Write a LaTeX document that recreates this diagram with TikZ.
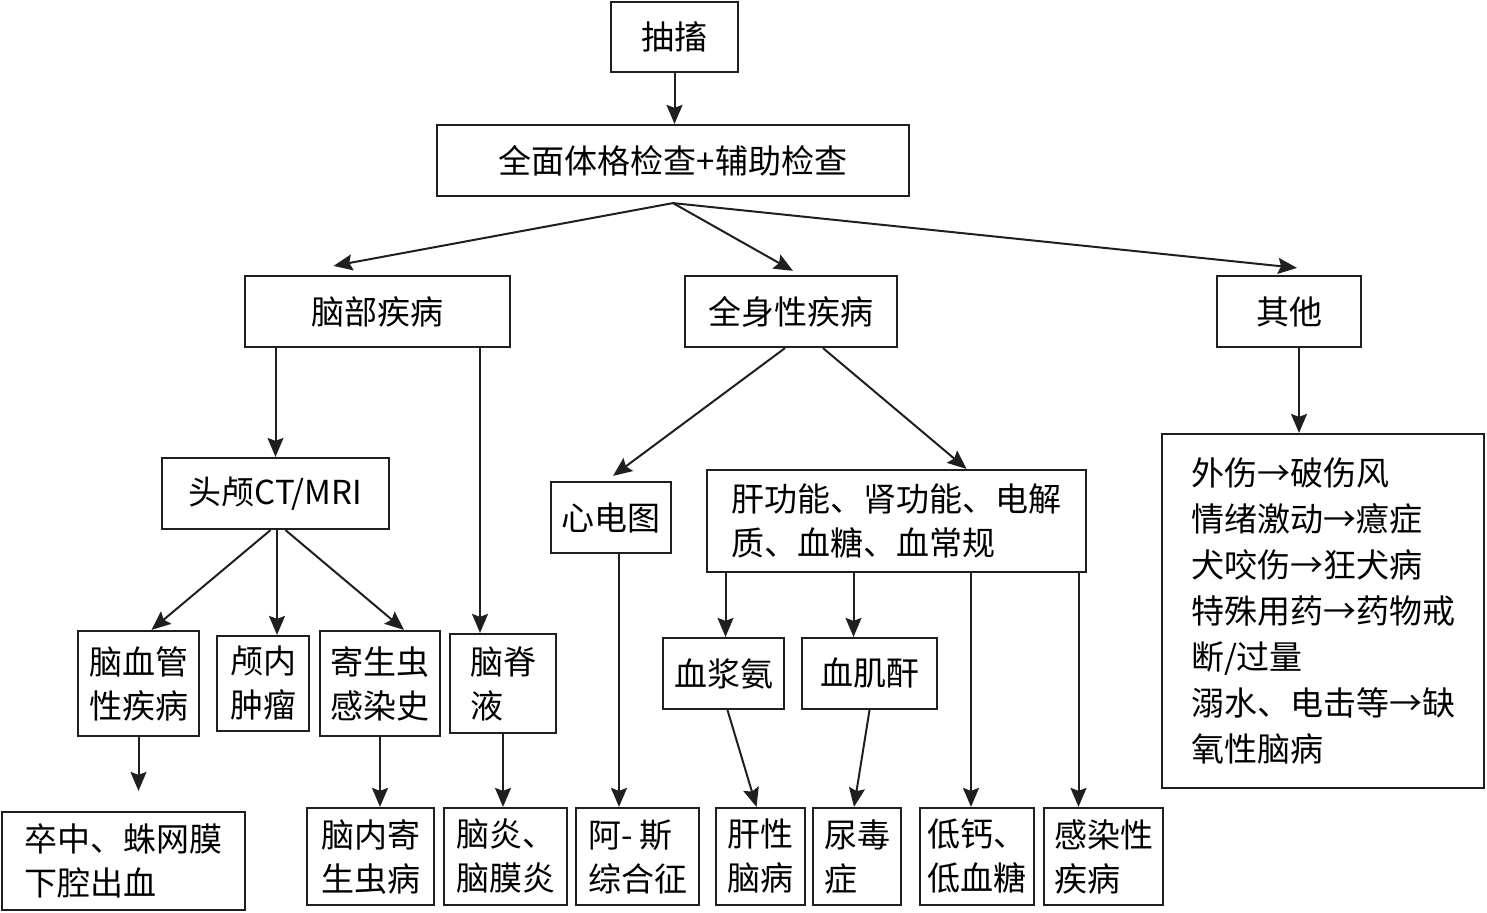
\documentclass[tikz,border=0pt]{standalone}
\usepackage{fontspec}
\setmainfont{Noto Sans CJK SC}
\usetikzlibrary{arrows.meta}

\begin{document}
\begin{tikzpicture}[x=1pt,y=-1pt,font=\fontsize{33}{44}\selectfont,
    box/.style={draw=black!88,line width=2.2pt,inner sep=0pt,align=left},
    boxsize/.style n args={2}{minimum width=#1pt,minimum height=#2pt},
    arr/.style={-{Stealth[length=19pt,width=16pt,inset=3pt]},line width=2pt,draw=black!88}]
    \useasboundingbox (0,0) rectangle (1487,912);

    % top levels
    \node[box,boxsize={127}{70}] (twitch) at (674.5,37) {抽搐};
    \node[box,boxsize={472}{71}] (exam) at (673,160.5) {全面体格检查+辅助检查};
    \node[box,boxsize={265}{71}] (brain) at (377.5,311.5) {脑部疾病};
    \node[box,boxsize={212}{71}] (systemic) at (791,311.5) {全身性疾病};
    \node[box,boxsize={144}{71}] (other) at (1289,311.5) {其他};

    % brain branch
    \node[box,boxsize={227}{71}] (ct) at (275.5,493.5) {头颅CT/MRI};
    \node[box,boxsize={121}{105}] (vasc) at (138.5,683.5) {脑血管\\性疾病};
    \node[box,boxsize={92}{95}] (tumor) at (263,683.5) {颅内\\肿瘤};
    \node[box,boxsize={120}{105}] (parasite) at (380,683.5) {寄生虫\\感染史};
    \node[box,boxsize={106}{99}] (csf) at (503,683.5) {脑脊\\液};
    \node[box,boxsize={243}{98}] (stroke) at (123.5,861) {卒中、蛛网膜\\下腔出血};
    \node[box,boxsize={127}{97}] (brainpar) at (370.5,856.5) {脑内寄\\生虫病};
    \node[box,boxsize={123}{97}] (enceph) at (505.5,856.5) {脑炎、\\脑膜炎};

    % systemic branch
    \node[box,boxsize={120}{71}] (ecg) at (611,517.5) {心电图};
    \node[box,boxsize={379}{102}] (labs) at (896.5,521)
      {肝功能、肾功能、电解\\质、血糖、血常规};
    \node[box,boxsize={121}{71}] (ammonia) at (723.5,673.5) {血浆氨};
    \node[box,boxsize={135}{71}] (creat) at (869.5,673.5) {血肌酐};
    \node[box,boxsize={123}{97}] (adams) at (637.5,856.5) {阿- 斯\\综合征};
    \node[box,boxsize={89}{97}] (hepatic) at (760.5,856.5) {肝性\\脑病};
    \node[box,boxsize={88}{97}] (uremia) at (857,856.5) {尿毒\\症};
    \node[box,boxsize={114}{97}] (lowca) at (977,856.5) {低钙、\\低血糖};
    \node[box,boxsize={119}{97}] (infect) at (1103.5,856.5) {感染性\\疾病};

    % others
    \node[box,boxsize={322}{354},font=\fontsize{33}{46}\selectfont] (otherlist)
      at (1323,611) {外伤→破伤风\\情绪激动→癔症\\犬咬伤→狂犬病\\特殊用药→药物戒\\断/过量\\溺水、电击等→缺\\氧性脑病};

    % arrows
    \coordinate (fork) at ([yshift=-6pt]exam.south);
    \draw[arr] (twitch.south) -- (twitch.south |- exam.north);
    \draw[arr] (fork) -- ([xshift=-44pt,yshift=9pt]brain.north);
    \draw[arr] (fork) -- ([xshift=2pt,yshift=4pt]systemic.north);
    \draw[arr] (fork) -- ([xshift=8pt,yshift=7pt]other.north);

    \draw[arr] (ct.north |- brain.south) -- (ct.north);
    \path ([xshift=-23pt]csf.north) coordinate (csfin);
    \draw[arr] (csfin |- brain.south) -- (csfin);
    \draw[arr] ([xshift=-5pt]ct.south) -- ([xshift=13pt]vasc.north);
    \path ([xshift=14pt]tumor.north) coordinate (tumorin);
    \draw[arr] (tumorin |- ct.south) -- (tumorin);
    \draw[arr] ([xshift=10pt]ct.south) -- ([xshift=24pt]parasite.north);
    \path (vasc.south |- stroke.north) ++(0,-20) coordinate (strokein);
    \draw[arr] (vasc.south) -- (strokein);
    \draw[arr] (parasite.south) -- (parasite.south |- brainpar.north);
    \draw[arr] (csf.south) -- (csf.south |- enceph.north);

    \draw[arr] ([xshift=-6pt]systemic.south) -- ([xshift=2pt,yshift=5pt]ecg.north);
    \draw[arr] ([xshift=32pt]systemic.south) -- ([xshift=70pt]labs.north);
    \path ([xshift=8pt]ecg.south) coordinate (ecgout);
    \draw[arr] (ecgout) -- (ecgout |- adams.north);
    \foreach \n/\dx in {ammonia/2,creat/-16,lowca/-6,infect/-25} {
      \path ([xshift=\dx pt]\n.north) coordinate (\n-in);
      \draw[arr] (\n-in |- labs.south) -- (\n-in);
    }
    \draw[arr] ([xshift=4pt]ammonia.south) -- ([xshift=-4pt]hepatic.north);
    \draw[arr] (creat.south) -- ([xshift=-3pt]uremia.north);

    \path ([xshift=10pt]other.south) coordinate (otherout);
    \draw[arr] (otherout) -- (otherout |- otherlist.north);
  \end{tikzpicture}
\end{document}
